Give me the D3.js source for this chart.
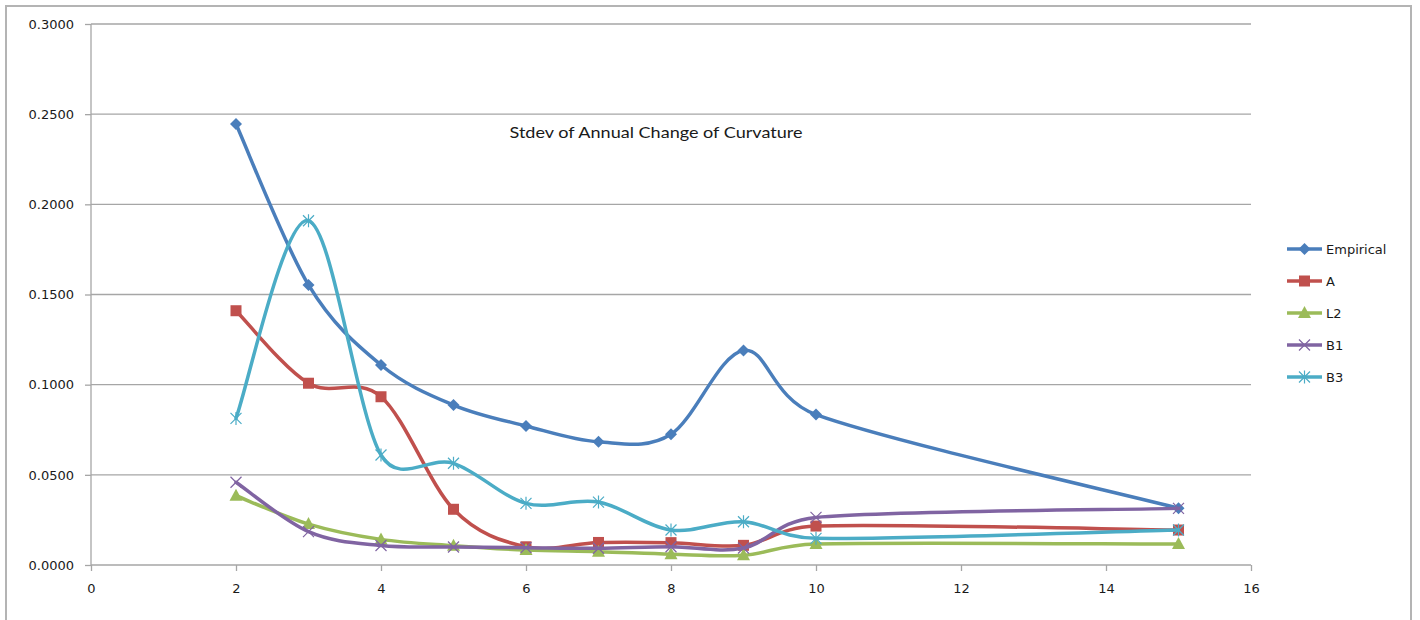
<!DOCTYPE html>
<html>
<head>
<meta charset="utf-8">
<script src="https://cdn.jsdelivr.net/npm/d3@7"></script>
<style>
  html, body { margin: 0; padding: 0; background: #ffffff; }
  svg { display: block; }
</style>
</head>
<body>
<svg id="chart" width="1420" height="620"></svg>
<script>
// Forecast horizons (years) and the stdev of the annual change of curvature per model
const horizons = [2, 3, 4, 5, 6, 7, 8, 9, 10, 15];
const empirical = [0.2445, 0.1553, 0.1109, 0.0887, 0.0771, 0.0683, 0.0725, 0.1190, 0.0834, 0.0315];
const modelA    = [0.1410, 0.1008, 0.0933, 0.0309, 0.0101, 0.0125, 0.0124, 0.0109, 0.0216, 0.0194];
const modelL2   = [0.0384, 0.0227, 0.0142, 0.0107, 0.0083, 0.0074, 0.0060, 0.0054, 0.0116, 0.0116];
const modelB1   = [0.0459, 0.0185, 0.0108, 0.0100, 0.0096, 0.0093, 0.0101, 0.0094, 0.0264, 0.0314];
const modelB3   = [0.0813, 0.1909, 0.0610, 0.0564, 0.0342, 0.0349, 0.0194, 0.0240, 0.0148, 0.0194];

const seriesNames = ["Empirical", "A", "L2", "B1", "B3"];
const seriesValues = [empirical, modelA, modelL2, modelB1, modelB3];
const seriesColors = ["#4a7ebb", "#c0504d", "#9bbb59", "#8064a2", "#4bacc6"];
const seriesMarkers = ["diamond", "square", "triangle", "x", "star"];

const xTicks = [0, 2, 4, 6, 8, 10, 12, 14, 16];
const yTicks = [0, 0.05, 0.10, 0.15, 0.20, 0.25, 0.30];
const chartTitle = "Stdev of Annual Change of Curvature";

const svg = d3.select("#chart");
const plot = { left: 91, right: 1251, top: 24, bottom: 565 };

const x = d3.scaleLinear().domain([0, 16]).range([plot.left, plot.right]);
const y = d3.scaleLinear().domain([0, 0.3]).range([plot.bottom, plot.top]);

const gridColor = "#a6a6a6";
const fontFamily = "'DejaVu Sans', Verdana, sans-serif";

// chart frame
svg.append("path")
  .attr("d", "M6,621 L6,6 L1411,6 L1411,621")
  .attr("fill", "none")
  .attr("stroke", "#b4b4b4")
  .attr("stroke-width", 2);

// horizontal gridlines
svg.append("g")
  .selectAll("line")
  .data(yTicks.slice(1))
  .join("line")
  .attr("x1", plot.left).attr("x2", plot.right)
  .attr("y1", d => y(d)).attr("y2", d => y(d))
  .attr("stroke", gridColor)
  .attr("stroke-width", 1.3);

// y axis
const yAxis = d3.axisLeft(y).tickValues(yTicks).tickFormat(d3.format(".4f")).tickSize(6).tickPadding(11);
const gy = svg.append("g").attr("transform", `translate(${plot.left},0)`).call(yAxis);
gy.select(".domain").attr("stroke", gridColor).attr("stroke-width", 1.3).attr("d", `M0,${plot.top}V${plot.bottom}`);
gy.selectAll(".tick line").attr("stroke", gridColor).attr("stroke-width", 1.3);
gy.selectAll(".tick text").attr("font-family", fontFamily).attr("font-size", 13).attr("fill", "#1a1a1a");

// x axis
const xAxis = d3.axisBottom(x).tickValues(xTicks).tickFormat(d3.format("d")).tickSize(6).tickPadding(13);
const gx = svg.append("g").attr("transform", `translate(0,${plot.bottom})`).call(xAxis);
gx.select(".domain").attr("stroke", gridColor).attr("stroke-width", 1.3).attr("d", `M${plot.left},0H${plot.right}`);
gx.selectAll(".tick line").attr("stroke", gridColor).attr("stroke-width", 1.3);
gx.selectAll(".tick text").attr("font-family", fontFamily).attr("font-size", 13).attr("fill", "#1a1a1a");

// title inside the plot area
svg.append("text")
  .attr("x", 656).attr("y", 138)
  .attr("text-anchor", "middle")
  .attr("font-family", "Lato, 'Open Sans', sans-serif")
  .attr("font-size", 15)
  .attr("textLength", 293)
  .attr("lengthAdjust", "spacingAndGlyphs")
  .attr("fill", "#1a1a1a")
  .text(chartTitle);

// marker drawing
function drawMarker(g, type, color, cx, cy) {
  if (type === "diamond") {
    g.append("path").attr("d", `M${cx},${cy - 6}L${cx + 6},${cy}L${cx},${cy + 6}L${cx - 6},${cy}Z`).attr("fill", color);
  } else if (type === "square") {
    g.append("rect").attr("x", cx - 5.5).attr("y", cy - 5.5).attr("width", 11).attr("height", 11).attr("fill", color);
  } else if (type === "triangle") {
    g.append("path").attr("d", `M${cx},${cy - 7}L${cx + 6.5},${cy + 5}L${cx - 6.5},${cy + 5}Z`).attr("fill", color);
  } else if (type === "x") {
    const s = 5.5;
    g.append("path").attr("d", `M${cx - s},${cy - s}L${cx + s},${cy + s}M${cx - s},${cy + s}L${cx + s},${cy - s}`)
      .attr("stroke", color).attr("stroke-width", 1.2).attr("fill", "none");
  } else if (type === "star") {
    const s = 5.5;
    g.append("path").attr("d", `M${cx - s},${cy - s}L${cx + s},${cy + s}M${cx - s},${cy + s}L${cx + s},${cy - s}M${cx},${cy - s - 1}L${cx},${cy + s + 1}`)
      .attr("stroke", color).attr("stroke-width", 1.2).attr("fill", "none");
  }
}

// Spreadsheet-style smoothing: cubic Bezier segments whose control arms are
// one sixth of the neighbour chord, capped at half of the segment length.
function smoothPath(pts) {
  const p = d3.path();
  const n = pts.length;
  if (!n) return "";
  p.moveTo(pts[0][0], pts[0][1]);
  const dist = (a, b) => Math.hypot(b[0] - a[0], b[1] - a[1]);
  for (let i = 0; i < n - 1; i++) {
    const p0 = pts[Math.max(i - 1, 0)];
    const p1 = pts[i];
    const p2 = pts[i + 1];
    const p3 = pts[Math.min(i + 2, n - 1)];
    const half = dist(p1, p2) / 2;
    let a1 = [(p2[0] - p0[0]) / 6, (p2[1] - p0[1]) / 6];
    let a2 = [(p3[0] - p1[0]) / 6, (p3[1] - p1[1]) / 6];
    const l1 = Math.hypot(a1[0], a1[1]);
    const l2 = Math.hypot(a2[0], a2[1]);
    if (l1 > half) a1 = [a1[0] * half / l1, a1[1] * half / l1];
    if (l2 > half) a2 = [a2[0] * half / l2, a2[1] * half / l2];
    p.bezierCurveTo(p1[0] + a1[0], p1[1] + a1[1], p2[0] - a2[0], p2[1] - a2[1], p2[0], p2[1]);
  }
  return p.toString();
}

// smoothed series lines with markers
seriesValues.forEach((vals, i) => {
  const pts = horizons.map((h, j) => [x(h), y(vals[j])]);
  const g = svg.append("g");
  g.append("path")
    .attr("d", smoothPath(pts))
    .attr("fill", "none")
    .attr("stroke", seriesColors[i])
    .attr("stroke-width", 3.5)
    .attr("stroke-linejoin", "round")
    .attr("stroke-linecap", "round");
  pts.forEach(p => drawMarker(g, seriesMarkers[i], seriesColors[i], p[0], p[1]));
});

// legend
const legend = svg.append("g");
seriesNames.forEach((name, i) => {
  const ly = 249 + i * 32;
  const row = legend.append("g");
  row.append("line")
    .attr("x1", 1287).attr("x2", 1322).attr("y1", ly).attr("y2", ly)
    .attr("stroke", seriesColors[i]).attr("stroke-width", 3.5);
  drawMarker(row, seriesMarkers[i], seriesColors[i], 1304.5, ly);
  row.append("text")
    .attr("x", 1326).attr("y", ly)
    .attr("dy", "0.35em")
    .attr("font-family", fontFamily)
    .attr("font-size", 13)
    .attr("fill", "#1a1a1a")
    .text(name);
});
</script>
</body>
</html>
